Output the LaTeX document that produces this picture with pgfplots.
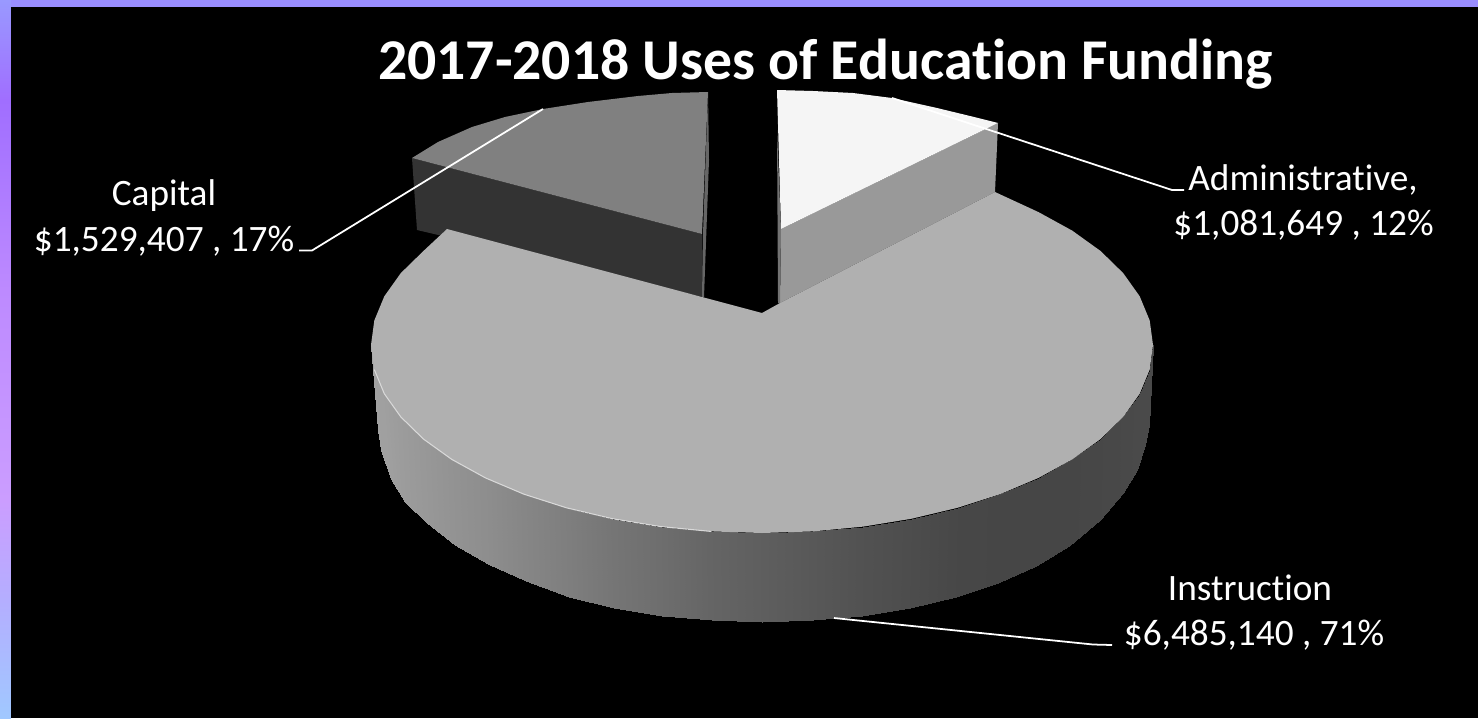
\documentclass[border=0pt]{standalone}
\usepackage{fontspec}
\setmainfont{Carlito}[Ligatures=NoCommon]
\usepackage{pgfplots}
\pgfplotsset{compat=1.18}
\definecolor{bandtop}{HTML}{9A8EFF}
\pgfplotsset{
  colormap={greyramp}{rgb255=(0,0,0) rgb255=(255,255,255)},
  colormap={edgeramp}{rgb255(0pt)=(153,153,255) rgb255(14pt)=(160,110,255) rgb255(40pt)=(189,138,255) rgb255(70pt)=(203,157,255) rgb255(84pt)=(180,174,255) rgb255(100pt)=(160,200,255)},
}
\begin{document}
\begin{tikzpicture}
\begin{axis}[
  scale only axis, width=14.78cm, height=7.18cm,
  xmin=0, xmax=1478, ymin=0, ymax=718, y dir=reverse,
  hide axis, point meta min=0, point meta max=1,
]
% background and page edge
\addplot[fill=black, draw=none] coordinates {(0,0) (1478,0) (1478,718) (0,718)} -- cycle;
\addplot[fill=bandtop, draw=none] coordinates {(0,0) (1478,0) (1478,7) (0,7)} -- cycle;
\addplot[surf, shader=interp, mesh/cols=2, colormap name=edgeramp, point meta=explicit] table[meta=m] {
x y m
0 0 0
10 0 0
0 100 0.14
10 100 0.14
0 290 0.40
10 290 0.40
0 500 0.70
10 500 0.70
0 600 0.84
10 600 0.84
0 718 1
10 718 1
};
% Instruction outer wall
\addplot[surf, shader=interp, mesh/rows=2, colormap name=greyramp, point meta=explicit] table[meta=g] {
x y g
1153 345 .29
1149.7 369.5 .29
1139.7 393.7 .29
1123.2 416.9 .285
1100.6 439 .28
1072.2 459.4 .275
1038.5 477.9 .275
1000 494.2 .275
957.5 507.8 .28
911.6 518.7 .30
863.2 526.6 .32
813 531.4 .345
762 533 .37
711 531.4 .395
660.8 526.6 .43
612.4 518.7 .46
566.5 507.8 .495
524 494.2 .525
485.5 477.9 .555
451.8 459.4 .575
423.4 439 .595
400.8 416.9 .61
384.3 393.7 .625
374.3 369.5 .63
371 345 .63
1149 425 .29
1145 445 .29
1137 470 .29
1123 493 .285
1100 520 .28
1069 546 .275
1035.7 566.3 .275
997.6 582.8 .275
955.5 596.5 .28
910.1 607.5 .30
862.2 615.5 .32
812.5 620.4 .345
762 622 .37
711.5 620.4 .395
661.8 615.5 .43
613.9 607.5 .46
568.5 596.5 .495
526.4 581 .525
488.3 564 .555
455 545 .575
426.9 523 .595
405 502 .61
391 479 .625
381 450 .63
378 430 .63
};
% Capital slice
\addplot[fill=black!80, draw=none] coordinates {(412,158) (702,234) (703,297) (417,230)} -- cycle;
\addplot[fill=black!50, draw=none] coordinates {(412,158) (438,142) (472,127) (505,117) (543,109) (588,102) (638,96) (672,93) (708,92) (702,234)} -- cycle;
\addplot[fill=black!60, draw=none] coordinates {(708,92) (709,160) (704,297) (702,297) (703,234)} -- cycle;
% Administrative slice
\addplot[fill=black!40, draw=none] coordinates {(781,229) (998,123) (995,192) (780,303)} -- cycle;
\addplot[fill=black!4, draw=none] coordinates {(777,90) (813,91) (853,93) (892,98) (937,108) (970,116) (998,123) (781,229)} -- cycle;
\addplot[fill=black!55, draw=none] coordinates {(777,130) (781,229) (780,303) (778,303)} -- cycle;
% Instruction top face
\addplot[fill=black!31, draw=none] coordinates {
(762,313) (780,303) (995,192) (1038.5,212.1) (1072.2,230.6) (1100.6,251)
(1123.2,273.1) (1139.7,296.3) (1149.7,320.5) (1153,345) (1149.7,369.5)
(1139.7,393.7) (1123.2,416.9) (1100.6,439) (1072.2,459.4) (1038.5,477.9)
(1000,494.2) (957.5,507.8) (911.6,518.7) (863.2,526.6) (813,531.4) (762,533)
(711,531.4) (660.8,526.6) (612.4,518.7) (566.5,507.8) (524,494.2) (485.5,477.9)
(451.8,459.4) (423.4,439) (400.8,416.9) (384.3,393.7) (374.3,369.5) (371,345)
(374.3,320.5) (384.3,296.3) (400.8,273.1) (423.4,251) (447,229)
} -- cycle;
% rim highlight
\addplot[color=black!15, line width=0.3pt] coordinates {(374.3,369.5) (384.3,393.7) (400.8,416.9) (423.4,439) (451.8,459.4) (485.5,477.9) (524,494.2) (566.5,507.8) (612.4,518.7) (660.8,526.6) (711,531.4)};
% leader lines
\addplot[white, line width=0.5pt] coordinates {(892,98) (1172,190) (1184,190)};
\addplot[white, line width=0.5pt] coordinates {(543,109) (312,250.5) (299,250.5)};
\addplot[white, line width=0.5pt] coordinates {(834,618) (1093,644.5) (1112,645)};
% texts
\node[anchor=base, white, font=\fontsize{16.42}{20}\selectfont\bfseries] at (axis cs:825.5,79) {2017-2018 Uses of Education Funding};
\node[anchor=base, white, font=\fontsize{10.6}{12}\selectfont] at (axis cs:164,205) {Capital};
\node[anchor=base, white, font=\fontsize{10.6}{12}\selectfont] at (axis cs:164,251) {\$1,529,407 , 17\%};
\node[anchor=base, white, font=\fontsize{10.6}{12}\selectfont] at (axis cs:1303,190) {Administrative,};
\node[anchor=base, white, font=\fontsize{10.6}{12}\selectfont] at (axis cs:1303.5,235) {\$1,081,649 , 12\%};
\node[anchor=base, white, font=\fontsize{10.6}{12}\selectfont] at (axis cs:1250,600) {Instruction};
\node[anchor=base, white, font=\fontsize{10.6}{12}\selectfont] at (axis cs:1254,645) {\$6,485,140 , 71\%};
\end{axis}
\end{tikzpicture}
\end{document}
